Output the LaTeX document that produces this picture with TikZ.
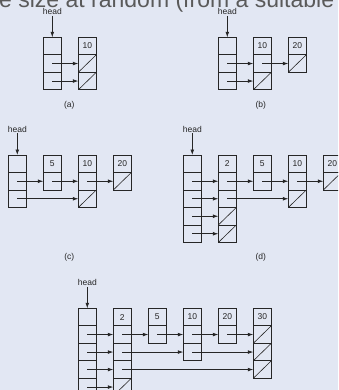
\documentclass[tikz,border=0pt]{standalone}
\usepackage{fontspec}
\setmainfont{Liberation Sans}
\usetikzlibrary{arrows.meta,positioning}
\definecolor{slidebg}{HTML}{E2E7F3}
\definecolor{ink}{HTML}{262626}
\definecolor{slidetext}{HTML}{5A5A5A}

% one tower of the list: name, x offset, key, kinds of the level cells
\newcommand{\tower}[4]{%
  \node[cell, anchor=north west] (#1-0) at (#2,0) {#3};
  \foreach \kind [count=\i] in {#4} {
    \pgfmathtruncatemacro{\prev}{\i-1}
    \node[\kind, below=0pt of #1-\prev] (#1-\i) {};
  }
}

\begin{document}
\begin{tikzpicture}[
  x=1pt, y=-1pt,
  cell/.style={draw=ink, line width=0.75pt, minimum width=18pt, minimum height=17.5pt,
    inner sep=0pt, outer sep=0pt, font=\fontsize{8.5}{10}\selectfont, text=ink},
  nil/.style={cell, path picture={\draw[ink, line width=0.6pt]
    (path picture bounding box.south west) -- (path picture bounding box.north east);}},
  ptr/.style={-{Latex[length=5.5pt,width=3.8pt]}, ink, line width=0.7pt},
  lbl/.style={font=\fontsize{8.5}{10}\selectfont, text=ink, inner sep=1pt},
  headlbl/.style={lbl, above=21.5pt of #1}
]
\clip (0,0) rectangle (338,390);
\fill[slidebg] (0,0) rectangle (338,390);
\node[anchor=base west, font=\fontsize{23}{26}\selectfont, text=slidetext, inner sep=0pt]
  (slideline) at (-1,7.3) {e size at random (from a suitable};

% (a)
\begin{scope}[shift={(43.3,37.3)}]
\tower{ah}{0}{}{cell,cell}
\tower{a10}{35}{10}{nil,nil}
\node[headlbl=ah-0] (ahead) {head};
\draw[ptr] (ahead) -- (ah-0.north);
\draw[ptr] (ah-1.center) -- (a10-1.west);
\draw[ptr] (ah-2.center) -- (a10-2.west);
\end{scope}

% (b)
\begin{scope}[shift={(218.3,37.3)}]
\tower{bh}{0}{}{cell,cell}
\tower{b10}{35}{10}{cell,nil}
\tower{b20}{70}{20}{nil}
\node[headlbl=bh-0] (bhead) {head};
\draw[ptr] (bhead) -- (bh-0.north);
\draw[ptr] (bh-1.center) -- (b10-1.west);
\draw[ptr] (b10-1.center) -- (b20-1.west);
\draw[ptr] (bh-2.center) -- (b10-2.west);
\end{scope}

% (c)
\begin{scope}[shift={(8.3,155)}]
\tower{ch}{0}{}{cell,cell}
\tower{c5}{35}{5}{cell}
\tower{c10}{70}{10}{cell,nil}
\tower{c20}{105}{20}{nil}
\node[headlbl=ch-0] (chead) {head};
\draw[ptr] (chead) -- (ch-0.north);
\draw[ptr] (ch-1.center) -- (c5-1.west);
\draw[ptr] (c5-1.center) -- (c10-1.west);
\draw[ptr] (c10-1.center) -- (c20-1.west);
\draw[ptr] (ch-2.center) -- (c10-2.west);
\end{scope}

% (d)
\begin{scope}[shift={(183.3,155)}]
\tower{dh}{0}{}{cell,cell,cell,cell}
\tower{d2}{35}{2}{cell,cell,nil,nil}
\tower{d5}{70}{5}{cell}
\tower{d10}{105}{10}{cell,nil}
\tower{d20}{140}{20}{nil}
\node[headlbl=dh-0] (dhead) {head};
\draw[ptr] (dhead) -- (dh-0.north);
\foreach \i in {1,...,4}
  \draw[ptr] (dh-\i.center) -- (d2-\i.west);
\draw[ptr] (d2-1.center) -- (d5-1.west);
\draw[ptr] (d5-1.center) -- (d10-1.west);
\draw[ptr] (d10-1.center) -- (d20-1.west);
\draw[ptr] (d2-2.center) -- (d10-2.west);
\end{scope}

% (e)
\begin{scope}[shift={(78.3,308.3)}]
\tower{eh}{0}{}{cell,cell,cell,cell}
\tower{e2}{35}{2}{cell,cell,cell,nil}
\tower{e5}{70}{5}{cell}
\tower{e10}{105}{10}{cell,cell}
\tower{e20}{140}{20}{cell}
\tower{e30}{175}{30}{nil,nil,nil}
\node[headlbl=eh-0] (ehead) {head};
\draw[ptr] (ehead) -- (eh-0.north);
\foreach \i in {1,...,4}
  \draw[ptr] (eh-\i.center) -- (e2-\i.west);
\draw[ptr] (e2-1.center) -- (e5-1.west);
\draw[ptr] (e5-1.center) -- (e10-1.west);
\draw[ptr] (e10-1.center) -- (e20-1.west);
\draw[ptr] (e20-1.center) -- (e30-1.west);
\draw[ptr] (e2-2.center) -- (e10-2.west);
\draw[ptr] (e10-2.center) -- (e30-2.west);
\draw[ptr] (e2-3.center) -- (e30-3.west);
\end{scope}

% captions
\node[lbl] (capa) at (69.3,105) {(a)};
\node[lbl] (capb) at (260.7,105) {(b)};
\node[lbl] (capc) at (69.3,257.5) {(c)};
\node[lbl] (capd) at (260.7,257.5) {(d)};
\end{tikzpicture}
\end{document}
